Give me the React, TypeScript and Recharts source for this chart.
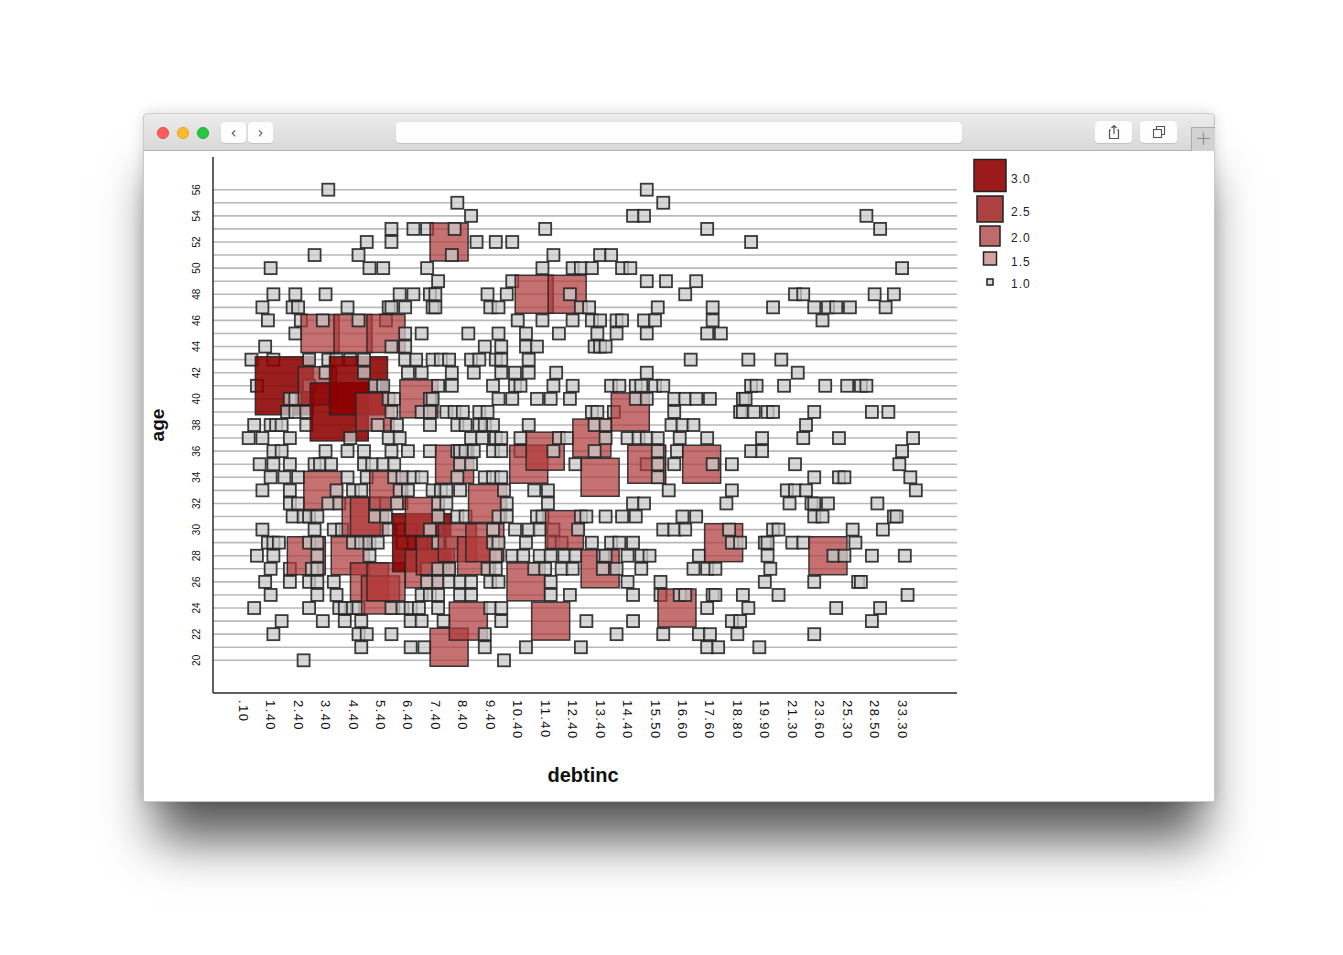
import React from 'react';
import { ScatterChart, Scatter, XAxis, YAxis, CartesianGrid, Legend } from 'recharts';

// debtinc is drawn as an ordinal axis: x = rank of the debtinc category
const xTickRanks = [0, 10, 20, 30, 40, 50, 60, 70, 80, 90, 100, 110, 120, 130, 140, 150, 160, 170, 180, 190, 200, 210, 220, 230, 240];
const xTickLabels = ['.10', '1.40', '2.40', '3.40', '4.40', '5.40', '6.40', '7.40', '8.40', '9.40', '10.40', '11.40', '12.40', '13.40', '14.40', '15.50', '16.60', '17.60', '18.80', '19.90', '21.30', '23.60', '25.30', '28.50', '33.30'];
const ageTicks = [20, 21, 22, 23, 24, 25, 26, 27, 28, 29, 30, 31, 32, 33, 34, 35, 36, 37, 38, 39, 40, 41, 42, 43, 44, 45, 46, 47, 48, 49, 50, 51, 52, 53, 54, 55, 56];
const ageDomain: [number, number] = [17.5, 58.5];
const rankDomain: [number, number] = [-11, 260];
const legendCounts = [3.0, 2.5, 2.0, 1.5, 1.0];

// cases with count 1: [age, debtinc ranks]
const singleCases: [number, number[]][] = [
  [56, [31, 147]],
  [55, [78, 153]],
  [54, [83, 142, 146, 227]],
  [53, [54, 62, 67, 77, 110, 169, 232]],
  [52, [45, 54, 85, 92, 98, 185]],
  [51, [26, 42, 76, 113, 130, 134]],
  [50, [10, 46, 51, 67, 109, 120, 123, 127, 138, 141, 240]],
  [49, [71, 98, 147, 154, 165]],
  [48, [11, 19, 30, 57, 62, 68, 70, 89, 96, 119, 161, 201, 204, 230, 237]],
  [47, [7, 18, 20, 38, 53, 54, 59, 69, 70, 90, 93, 123, 126, 151, 171, 193, 208, 213, 216, 221, 234]],
  [46, [9, 21, 29, 42, 52, 100, 109, 120, 127, 130, 136, 138, 146, 150, 171, 211]],
  [45, [19, 59, 65, 82, 93, 103, 115, 129, 136, 147, 169, 174]],
  [44, [8, 54, 59, 88, 94, 103, 107, 128, 130, 132]],
  [43, [3, 11, 24, 31, 34, 39, 44, 59, 63, 69, 72, 75, 83, 86, 92, 94, 104, 163, 184, 196]],
  [42, [30, 44, 60, 65, 76, 84, 94, 99, 104, 114, 147, 202]],
  [41, [5, 24, 48, 51, 71, 76, 91, 99, 101, 113, 120, 134, 137, 143, 145, 150, 153, 185, 187, 197, 212, 220, 225, 227]],
  [40, [17, 19, 53, 55, 68, 69, 93, 98, 107, 112, 119, 143, 147, 157, 161, 165, 170, 182, 183]],
  [39, [16, 19, 23, 54, 65, 68, 74, 77, 80, 86, 89, 127, 129, 135, 157, 181, 182, 186, 191, 193, 208, 229, 235]],
  [38, [4, 10, 12, 14, 23, 49, 56, 68, 78, 81, 86, 88, 91, 104, 128, 132, 156, 160, 164, 205]],
  [37, [2, 7, 17, 39, 53, 57, 83, 87, 92, 94, 101, 115, 118, 132, 140, 144, 147, 151, 159, 169, 189, 204, 217, 244]],
  [36, [11, 14, 30, 38, 44, 54, 60, 68, 78, 79, 81, 84, 91, 94, 101, 113, 128, 151, 158, 185, 189, 240]],
  [35, [6, 11, 17, 26, 28, 32, 44, 47, 51, 55, 79, 83, 121, 147, 151, 157, 171, 178, 201, 239]],
  [34, [10, 15, 20, 38, 45, 55, 58, 62, 65, 78, 88, 91, 94, 151, 208, 217, 219, 243]],
  [33, [7, 17, 34, 40, 43, 57, 60, 69, 72, 74, 79, 95, 106, 111, 155, 178, 198, 201, 205, 245]],
  [32, [17, 20, 31, 35, 48, 52, 56, 71, 74, 96, 111, 142, 146, 176, 199, 207, 208, 213, 231]],
  [31, [18, 22, 24, 27, 48, 52, 71, 78, 81, 93, 96, 107, 109, 123, 125, 132, 138, 143, 160, 165, 208, 211, 237, 238]],
  [30, [7, 26, 33, 36, 53, 58, 61, 68, 91, 99, 104, 108, 113, 122, 153, 157, 161, 177, 193, 195, 222, 233]],
  [29, [9, 11, 13, 24, 27, 40, 43, 46, 49, 58, 62, 65, 71, 76, 91, 93, 103, 113, 116, 127, 134, 137, 142, 178, 181, 190, 191, 200, 204, 223]],
  [28, [5, 11, 27, 46, 92, 98, 102, 108, 112, 117, 121, 131, 132, 140, 145, 148, 166, 191, 215, 219, 229, 241]],
  [27, [10, 17, 25, 27, 67, 71, 75, 89, 92, 106, 110, 116, 120, 131, 136, 145, 164, 169, 172, 192]],
  [26, [8, 17, 24, 27, 33, 67, 71, 75, 79, 83, 90, 93, 112, 140, 152, 190, 208, 224, 225]],
  [25, [10, 27, 34, 65, 68, 71, 79, 83, 112, 119, 142, 152, 159, 161, 171, 172, 182, 195, 242]],
  [24, [4, 24, 35, 37, 40, 42, 54, 58, 61, 64, 71, 90, 94, 169, 184, 216, 232]],
  [23, [14, 29, 37, 43, 61, 65, 73, 94, 125, 142, 178, 181, 229]],
  [22, [11, 42, 45, 54, 88, 136, 153, 166, 170, 180, 208]],
  [21, [43, 61, 66, 88, 103, 123, 169, 173, 188]],
  [20, [22, 95]],
];

// cases with count 2: [debtinc rank, age]
const doubleCases: [number, number][] = [
  [75, 52], [106, 48], [118, 48], [28, 45], [40, 45], [52, 45], [27, 41], [48, 39], [64, 40],
  [141, 39], [29, 33], [53, 33], [77, 35], [104, 35], [110, 36], [127, 37], [130, 34], [147, 35],
  [167, 35], [89, 32], [43, 31], [46, 31], [66, 31], [117, 30], [78, 29], [88, 29], [85, 28],
  [70, 28], [66, 27], [23, 28], [39, 28], [46, 26], [50, 25], [52, 26], [103, 26], [82, 23],
  [75, 21], [112, 23], [130, 27], [175, 29], [213, 28], [158, 24],
];

// cases with count 3: [debtinc rank, age]
const tripleCases: [number, number][] = [
  [15, 41], [42, 41], [35, 39], [65, 29],
];

type Pt = { x: number; y: number; n: number; k: number };
const points: Pt[] = [];
let order = 0;
singleCases.forEach(([age, ranks]) => ranks.forEach((r) => points.push({ x: r, y: age, n: 1, k: order++ })));
doubleCases.forEach(([r, age]) => points.push({ x: r, y: age, n: 2, k: order++ }));
tripleCases.forEach(([r, age]) => points.push({ x: r, y: age, n: 3, k: order++ }));
points.sort((a, b) => a.x - b.x || a.k - b.k);

const sideFor = (n: number) => (n >= 3 ? 58 : n >= 2 ? 38 : 12);
const fillFor = (n: number) => (n >= 3 ? '#8b0000' : n >= 2 ? '#b03a3a' : '#cbcbcb');
const opacityFor = (n: number) => (n >= 3 ? 0.88 : n >= 2 ? 0.72 : 0.75);

const SquareShape = (props: any) => {
  const { cx, cy, payload } = props;
  if (cx == null || cy == null) return null;
  const n = payload.n;
  const s = sideFor(n);
  return (
    <rect
      x={cx - s / 2}
      y={cy - s / 2}
      width={s}
      height={s}
      fill={fillFor(n)}
      fillOpacity={opacityFor(n)}
      stroke="#262626"
      strokeOpacity={0.9}
      strokeWidth={n === 1 ? 1.8 : 1.5}
    />
  );
};

const XTick = (props: any) => {
  const { x, y, payload } = props;
  const i = xTickRanks.indexOf(payload.value);
  return (
    <text
      transform={`translate(${x},${y + 7}) rotate(90)`}
      textAnchor="start"
      dominantBaseline="central"
      fontSize={13}
      letterSpacing={1.4}
      fill="#111"
      fontFamily="'Liberation Sans', Arial, sans-serif"
    >
      {i >= 0 ? xTickLabels[i] : ''}
    </text>
  );
};

const YTick = (props: any) => {
  const { x, y, payload } = props;
  if (payload.value % 2 !== 0) return null;
  return (
    <text
      transform={`translate(${x - 17},${y}) rotate(-90)`}
      textAnchor="middle"
      dominantBaseline="central"
      fontSize={10}
      fill="#111"
      fontFamily="'Liberation Sans Narrow', 'Liberation Sans', Arial, sans-serif"
    >
      {payload.value}
    </text>
  );
};

const legendStyle: Record<string, { side: number; cy: number; ly: number; fill: string }> = {
  '3.0': { side: 32, cy: 20.5, ly: 24, fill: '#9b1b1b' },
  '2.5': { side: 26, cy: 54, ly: 57, fill: '#ad4242' },
  '2.0': { side: 20, cy: 81, ly: 83, fill: '#c06b6b' },
  '1.5': { side: 13, cy: 103.5, ly: 107, fill: '#d6a3a3' },
  '1.0': { side: 6, cy: 127, ly: 129, fill: '#e2d6d6' },
};

const renderLegend = () => (
  <svg width={90} height={140} style={{ display: 'block' }}>
    {legendCounts.map((v) => {
      const key = v.toFixed(1);
      const st = legendStyle[key];
      return (
        <g key={key}>
          <rect
            x={22 - st.side / 2}
            y={st.cy - st.side / 2}
            width={st.side}
            height={st.side}
            fill={st.fill}
            stroke="#222"
            strokeWidth={1.5}
          />
          <text
            x={43}
            y={st.ly}
            dominantBaseline="central"
            fontSize={12}
            letterSpacing={1}
            fill="#222"
            fontFamily="'Liberation Sans', Arial, sans-serif"
          >
            {key}
          </text>
        </g>
      );
    })}
  </svg>
);

const AgeLabel = (props: any) => {
  const vb = props.viewBox || {};
  return (
    <text
      transform={`translate(${vb.x - 16},${vb.y + vb.height / 2}) rotate(-90)`}
      textAnchor="middle"
      dominantBaseline="central"
      fontSize={19}
      fontWeight="bold"
      fill="#111"
      fontFamily="'Liberation Sans', Arial, sans-serif"
    >
      age
    </text>
  );
};

const DebtLabel = (props: any) => {
  const vb = props.viewBox || {};
  return (
    <text
      x={vb.x + vb.width / 2 - 2}
      y={vb.y + 82}
      textAnchor="middle"
      dominantBaseline="central"
      fontSize={20}
      fontWeight="bold"
      fill="#111"
      fontFamily="'Liberation Sans', Arial, sans-serif"
    >
      debtinc
    </text>
  );
};

// horizontal grid lines only at the age ticks (not at the plot border)
const gridRows = (props: any) => {
  const off = props && props.offset;
  if (!off || typeof off.top !== 'number' || typeof off.height !== 'number') return [];
  const [lo, hi] = ageDomain;
  return ageTicks.map((t) => off.top + ((hi - t) / (hi - lo)) * off.height);
};

const Light = ({ left, color, border }: { left: number; color: string; border: string }) => (
  <div
    style={{
      position: 'absolute',
      left,
      top: 127,
      width: 12,
      height: 12,
      borderRadius: '50%',
      background: color,
      boxSizing: 'border-box',
      border: `0.5px solid ${border}`,
    }}
  />
);

const btn: React.CSSProperties = {
  position: 'absolute',
  background: '#fefefe',
  borderRadius: 4,
  boxShadow: '0 0.5px 1px rgba(0,0,0,0.12)',
  color: '#555',
  display: 'flex',
  alignItems: 'center',
  justifyContent: 'center',
  fontFamily: "'DejaVu Sans', sans-serif",
};

export default function App() {
  return (
    <div style={{ position: 'absolute', left: 0, top: 0, width: 1343, height: 955, background: '#fff', overflow: 'hidden' }}>
      {/* window */}
      <div
        style={{
          position: 'absolute',
          left: 143,
          top: 113,
          width: 1072,
          height: 689,
          background: '#fff',
          borderRadius: '5px 5px 2px 2px',
          boxShadow: '0 50px 48px -12px rgba(0,0,0,0.66), 0 0 14px rgba(0,0,0,0.14)',
          border: '1px solid #c9c9c9',
          boxSizing: 'border-box',
        }}
      />
      {/* title bar */}
      <div
        style={{
          position: 'absolute',
          left: 143,
          top: 113,
          width: 1072,
          height: 38,
          background: 'linear-gradient(#ececec, #d8d8d8)',
          borderBottom: '1px solid #b3b3b3',
          borderRadius: '5px 5px 0 0',
          boxSizing: 'border-box',
          borderTop: '1px solid #cfcfcf',
          borderLeft: '1px solid #c9c9c9',
          borderRight: '1px solid #c9c9c9',
        }}
      />
      <Light left={157} color="#fc5f57" border="#de4a42" />
      <Light left={177} color="#fdbc2e" border="#dea123" />
      <Light left={197} color="#28c840" border="#1eaa2e" />
      <div style={{ ...btn, left: 221, top: 122, width: 25, height: 21, fontSize: 15 }}>‹</div>
      <div style={{ ...btn, left: 248, top: 122, width: 25, height: 21, fontSize: 15 }}>›</div>
      <div style={{ ...btn, left: 396, top: 122, width: 566, height: 21 }} />
      <div style={{ ...btn, left: 1095, top: 121, width: 37, height: 22 }}>
        <svg width={14} height={16}>
          <path d="M4 6 H2.5 V14.5 H11.5 V6 H10 M7 10 V1.5 M4.5 4 L7 1.5 L9.5 4" fill="none" stroke="#555" strokeWidth={1.2} />
        </svg>
      </div>
      <div style={{ ...btn, left: 1140, top: 121, width: 37, height: 22 }}>
        <svg width={14} height={14}>
          <rect x={1.5} y={4.5} width={8} height={8} fill="none" stroke="#555" strokeWidth={1.1} />
          <path d="M4.5 4.5 V1.5 H12.5 V9.5 H9.5" fill="none" stroke="#555" strokeWidth={1.1} />
        </svg>
      </div>
      <div
        style={{
          position: 'absolute',
          left: 1191,
          top: 127,
          width: 24,
          height: 24,
          background: '#d2d2d2',
          borderLeft: '1px solid #aaa',
          borderTop: '1px solid #aaa',
          boxSizing: 'border-box',
          color: '#8a8a8a',
          fontSize: 20,
          lineHeight: '20px',
          textAlign: 'center',
          fontFamily: "'DejaVu Sans', sans-serif",
          fontWeight: 200,
        }}
      >
        +
      </div>

      {/* chart */}
      <div style={{ position: 'absolute', left: 143, top: 151 }}>
        <ScatterChart width={1072} height={651} margin={{ top: 6, right: 258, bottom: 49, left: 30 }}>
          <CartesianGrid
            horizontal
            vertical={false}
            stroke="#b9b9b9"
            strokeWidth={1.6}
            horizontalCoordinatesGenerator={gridRows}
          />
          <XAxis
            type="number"
            dataKey="x"
            domain={rankDomain}
            ticks={xTickRanks}
            interval={0}
            height={60}
            tickSize={0}
            tickMargin={0}
            tick={<XTick />}
            axisLine={{ stroke: '#2b2b2b', strokeWidth: 1.5 }}
            tickLine={false}
            allowDataOverflow
            label={<DebtLabel />}
          />
          <YAxis
            type="number"
            dataKey="y"
            domain={ageDomain}
            ticks={ageTicks}
            interval={0}
            width={40}
            tickSize={0}
            tickMargin={0}
            tick={<YTick />}
            axisLine={{ stroke: '#2b2b2b', strokeWidth: 1.5 }}
            tickLine={false}
            allowDataOverflow
            label={<AgeLabel />}
          />
          <Legend
            content={renderLegend}
            layout="horizontal"
            verticalAlign="middle"
            align="center"
            wrapperStyle={{ position: 'absolute', left: 825, top: 4, width: 90, height: 140 }}
          />
          <Scatter data={points} shape={SquareShape} isAnimationActive={false} />
        </ScatterChart>
      </div>
    </div>
  );
}
